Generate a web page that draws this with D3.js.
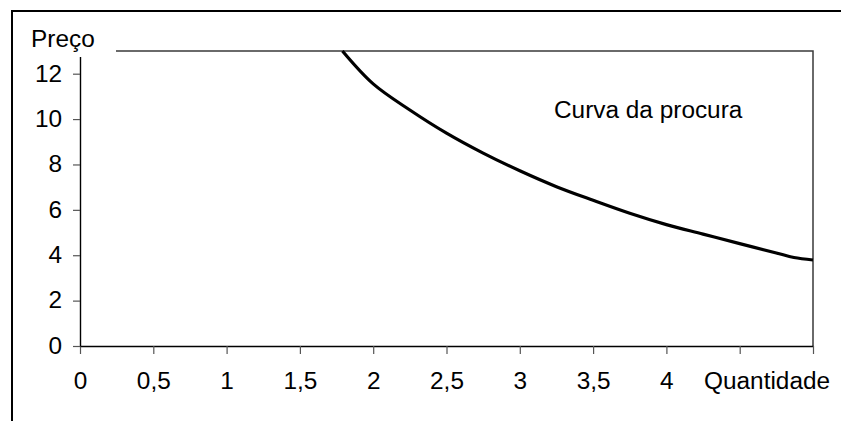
<!DOCTYPE html>
<html>
<head>
<meta charset="utf-8">
<script src="https://cdn.jsdelivr.net/npm/d3@7"></script>
<style>
  body { margin: 0; background: #fff; }
  svg { display: block; font-family: "Liberation Sans", Arial, sans-serif; }
</style>
</head>
<body>
<div id="chart"></div>
<script>
// values
var quantidade = [1.79, 2.0, 2.25, 2.5, 2.75, 3.0, 3.25, 3.5, 3.75, 4.0, 4.25, 4.5, 4.75, 4.87, 5.0];
var preco      = [13.0, 11.55, 10.4, 9.38, 8.5, 7.72, 7.02, 6.42, 5.85, 5.35, 4.93, 4.51, 4.1, 3.9, 3.79];
var xTicks = [0, 0.5, 1, 1.5, 2, 2.5, 3, 3.5, 4, 4.5, 5];
var xTickLabels = ["0", "0,5", "1", "1,5", "2", "2,5", "3", "3,5", "4", "", ""];
var yTicks = [0, 2, 4, 6, 8, 10, 12];

var width = 841, height = 421;
var margin = {top: 51, right: 28, bottom: 75, left: 80};
var stretch = 1.06; // text in the picture is a bit wider than Arial

var data = quantidade.map(function (q, i) { return {q: q, p: preco[i]}; });

var svg = d3.select("#chart").append("svg")
    .attr("width", width)
    .attr("height", height);

var x = d3.scaleLinear().domain([0, 5]).range([margin.left, width - margin.right]);
var y = d3.scaleLinear().domain([0, 13]).range([height - margin.bottom, margin.top]);

// outer frame (only top and left visible)
svg.append("path")
    .attr("d", "M12,421V11H841")
    .attr("fill", "none")
    .attr("stroke", "#000")
    .attr("stroke-width", 2);

// plot frame top and right
svg.append("path")
    .attr("d", "M" + x(0) + "," + y(13) + "H" + x(5) + "V" + y(0))
    .attr("fill", "none")
    .attr("stroke", "#3a3a3a")
    .attr("stroke-width", 1.5);

// demand curve
var line = d3.line()
    .x(function (d) { return x(d.q); })
    .y(function (d) { return y(d.p); })
    .curve(d3.curveCatmullRom.alpha(0.5));

svg.append("path")
    .datum(data)
    .attr("d", line)
    .attr("fill", "none")
    .attr("stroke", "#000")
    .attr("stroke-width", 3.2);

// axes
var xAxis = svg.append("g")
    .attr("transform", "translate(0," + y(0) + ")")
    .call(d3.axisBottom(x)
      .tickValues(xTicks)
      .tickSize(8)
      .tickPadding(19)
      .tickSizeOuter(0)
      .tickFormat(function (d, i) { return xTickLabels[i]; }));

var yAxis = svg.append("g")
    .attr("transform", "translate(" + x(0) + ",0)")
    .call(d3.axisLeft(y)
      .tickValues(yTicks)
      .tickSize(7)
      .tickPadding(11)
      .tickSizeOuter(0));

[xAxis, yAxis].forEach(function (g) {
  g.select(".domain").attr("stroke", "#000").attr("stroke-width", 1.4);
  g.selectAll(".tick line").attr("stroke", "#555").attr("stroke-width", 1.2);
  g.selectAll(".tick text")
    .attr("fill", "#000")
    .style("font-size", "23px")
    .style("font-family", "'Liberation Sans', Arial, sans-serif");
});

// white box behind y title, hides frame corner
svg.append("rect")
    .attr("x", 24).attr("y", 22)
    .attr("width", 116 - 24).attr("height", 57 - 22)
    .attr("fill", "#fff");

svg.append("text")
    .attr("x", 31).attr("y", 47)
    .style("font-size", "23px")
    .text("Preço");

svg.append("text")
    .attr("x", 704).attr("y", 389)
    .style("font-size", "23px")
    .text("Quantidade");

svg.append("text")
    .attr("x", 554).attr("y", 118)
    .style("font-size", "23px")
    .text("Curva da procura");

// widen all text a little
svg.selectAll("text").each(function () {
  var len = this.getComputedTextLength();
  if (len > 0) {
    d3.select(this)
      .attr("textLength", len * stretch)
      .attr("lengthAdjust", "spacingAndGlyphs");
  }
});
</script>
</body>
</html>
